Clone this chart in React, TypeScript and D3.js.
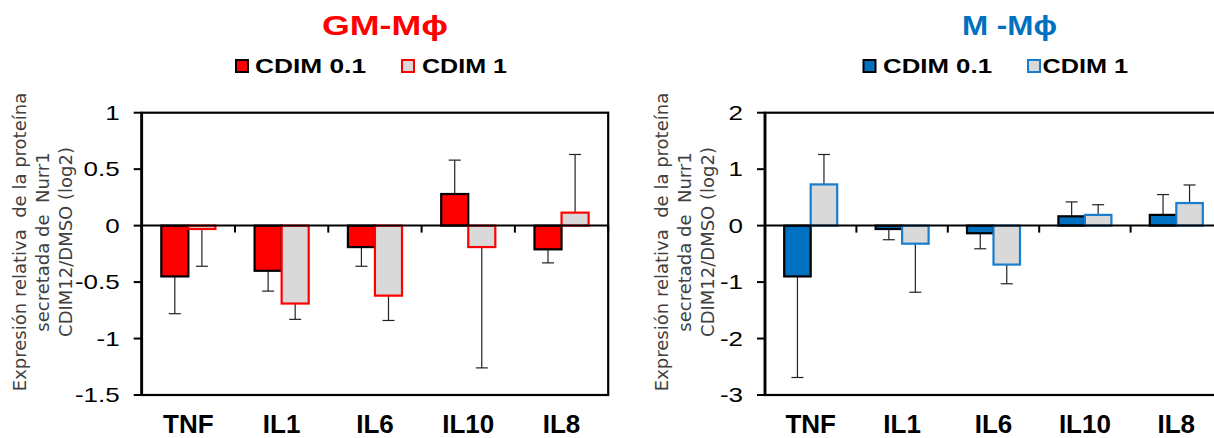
import React from 'react';
import * as d3 from 'd3';

const categories = ['TNF', 'IL1', 'IL6', 'IL10', 'IL8'];

// GM-Mphi panel
const gmCdim01 = [-0.45, -0.40, -0.19, 0.28, -0.21];
const gmCdim01Err = [0.33, 0.18, 0.17, 0.30, 0.12];
const gmCdim1 = [-0.03, -0.69, -0.62, -0.19, 0.115];
const gmCdim1Err = [0.33, 0.14, 0.22, 1.07, 0.515];
const gmTicks = [1, 0.5, 0, -0.5, -1, -1.5];

// M-Mphi panel
const mCdim01 = [-0.90, -0.06, -0.135, 0.165, 0.19];
const mCdim01Err = [1.79, 0.19, 0.275, 0.255, 0.36];
const mCdim1 = [0.73, -0.32, -0.69, 0.19, 0.40];
const mCdim1Err = [0.53, 0.86, 0.34, 0.18, 0.32];
const mTicks = [2, 1, 0, -1, -2, -3];

const seriesNames = ['CDIM 0.1', 'CDIM 1'];
const yTitle = ['Expresión relativa  de la proteína', 'secretada de  Nurr1', 'CDIM12/DMSO (log2)'];

const FONT = "'Liberation Sans', Arial, sans-serif";
const GREY = '#d9d9d9';
const TOP = 112.7;
const BOTTOM = 395;

function Panel(p) {
  const y = d3.scaleLinear().domain([p.ticks[p.ticks.length - 1], p.ticks[0]]).range([BOTTOM, TOP]);
  const x = d3.scaleBand().domain(categories).range([p.left, p.left + categories.length * p.band]);
  const groupW = x.bandwidth() * 0.58;
  const inner = d3.scaleBand().domain(seriesNames).range([0, groupW]);
  const off = (x.bandwidth() - groupW) / 2;
  const y0 = y(0);

  const series = [
    { name: seriesNames[0], values: p.v01, errs: p.e01, fill: p.color, stroke: '#000' },
    { name: seriesNames[1], values: p.v1, errs: p.e1, fill: GREY, stroke: p.edge },
  ];
  const right = p.left + categories.length * p.band;
  const bounds = d3.range(categories.length + 1).map(i => p.left + i * x.step());

  return (
    <g fontFamily={FONT}>
      {/* title + legend */}
      <text x={p.titleX} y={35} textAnchor="middle" fontSize={28} fontWeight="bold" fill={p.titleColor}
        textLength={p.titleW} lengthAdjust="spacingAndGlyphs">{p.title}</text>
      {series.map((s, i) => (
        <g key={s.name}>
          <rect x={p.legend[i][0] + 1} y={60} width={12} height={12} fill={s.fill} stroke={s.stroke} strokeWidth={2} />
          <text x={p.legend[i][1]} y={73.3} fontSize={20} fontWeight="bold"
            textLength={p.legend[i][2]} lengthAdjust="spacingAndGlyphs">{s.name}</text>
        </g>
      ))}

      {/* y title */}
      {yTitle.map((t, i) => (
        <text key={t} transform={`translate(${p.titleLines[i]},242) rotate(-90)`} textAnchor="middle"
          fontFamily="'DejaVu Sans', Verdana, sans-serif" fontSize={18} fill="#404040"
          style={{ whiteSpace: 'pre' }}>{t}</text>
      ))}

      {/* error bars */}
      {series.map(s => s.values.map((v, j) => {
        const cx = x(categories[j]) + off + inner(s.name) + inner.bandwidth() / 2;
        const end = v + Math.sign(v) * s.errs[j];
        return (
          <g key={s.name + j} stroke="#222" strokeWidth={1.2}>
            <line x1={cx} x2={cx} y1={y(v)} y2={y(end)} />
            <line x1={cx - 6} x2={cx + 6} y1={y(end)} y2={y(end)} />
          </g>
        );
      }))}

      {/* bars */}
      {series.map(s => s.values.map((v, j) => (
        <rect key={s.name + 'b' + j}
          x={x(categories[j]) + off + inner(s.name)}
          y={Math.min(y(v), y0)}
          width={inner.bandwidth()}
          height={Math.abs(y(v) - y0)}
          fill={s.fill} stroke={s.stroke} strokeWidth={2.2} />
      )))}

      {/* frame */}
      <rect x={p.left} y={TOP} width={right - p.left} height={BOTTOM - TOP} fill="none" stroke="#000" strokeWidth={2.2} />
      <line x1={p.left} x2={p.left} y1={TOP} y2={BOTTOM} stroke="#000" strokeWidth={2.8} />
      <line x1={p.left} x2={right} y1={y0} y2={y0} stroke="#000" strokeWidth={2} />
      {bounds.map(b => <line key={b} x1={b} x2={b} y1={y0} y2={y0 + 7} stroke="#000" strokeWidth={2} />)}

      {/* y ticks */}
      {p.ticks.map(t => (
        <g key={t}>
          <line x1={p.left - 8} x2={p.left} y1={y(t)} y2={y(t)} stroke="#000" strokeWidth={2} />
          <g transform={`translate(${p.left - 22},${y(t)}) scale(1.3,1)`}>
            <text textAnchor="end" dy="0.35em" fontSize={20}>{String(t)}</text>
          </g>
        </g>
      ))}

      {/* categories */}
      {categories.map(c => (
        <text key={c} x={x(c) + x.bandwidth() / 2} y={433} textAnchor="middle" fontSize={26} fontWeight="bold">{c}</text>
      ))}
    </g>
  );
}

export default function App() {
  return (
    <svg width={1214} height={438} style={{ position: 'absolute', left: 0, top: 0, background: '#fff' }}>
      <rect width={1214} height={438} fill="#fff" />
      <Panel title="GM-Mϕ" titleColor="#ff0000" titleX={385} titleW={126}
        legend={[[235, 255, 111], [401, 422, 85]]}
        titleLines={[26, 49, 72]}
        left={141.7} band={93.3} ticks={gmTicks}
        v01={gmCdim01} e01={gmCdim01Err} v1={gmCdim1} e1={gmCdim1Err}
        color="#ff0000" edge="#ff0000" />
      <Panel title="M -Mϕ" titleColor="#0070c0" titleX={1009.5} titleW={95}
        legend={[[862.5, 883, 109], [1027, 1042.5, 85.5]]}
        titleLines={[668, 691, 714]}
        left={765} band={91.4} ticks={mTicks}
        v01={mCdim01} e01={mCdim01Err} v1={mCdim1} e1={mCdim1Err}
        color="#0070c0" edge="#1a7ccc" />
    </svg>
  );
}
